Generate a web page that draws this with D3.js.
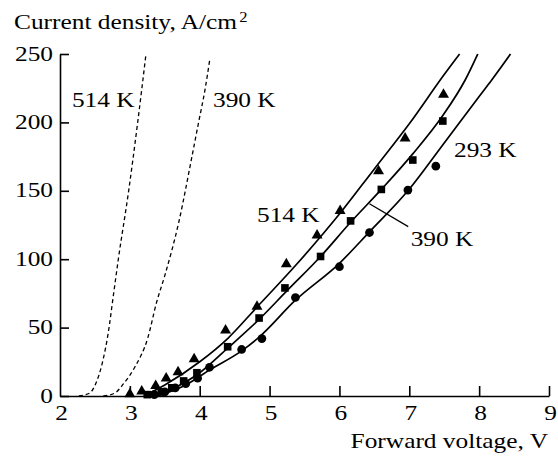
<!DOCTYPE html>
<html><head><meta charset="utf-8">
<script src="https://cdn.jsdelivr.net/npm/d3@7/dist/d3.min.js"></script>
<style>
body{margin:0;background:#fff;}
text{font-family:"Liberation Serif","Times New Roman",serif;fill:#000;}
</style></head>
<body>
<svg id="chart" width="558" height="458"></svg>
<script>
// ---- data ----
const xTicks = [2,3,4,5,6,7,8,9];
const yTicks = [0,50,100,150,200,250];

// measured points (markers)
const tri514V = [3.0,3.17,3.37,3.52,3.69,3.92,4.37,4.82,5.24,5.68,6.01,6.56,6.94,7.49];
const tri514J = [2,4,8,13.5,18,27.5,48.5,66,97,118,136,165,189,221];
const sq390V  = [3.25,3.45,3.6,3.77,3.96,4.40,4.85,5.22,5.73,6.16,6.6,7.05,7.48];
const sq390J  = [1,3,6,11,17,36,57,79,102,128,151,172.5,201];
const ci293V  = [3.35,3.5,3.65,3.8,3.97,4.14,4.6,4.89,5.37,6.0,6.43,6.98,7.38];
const ci293J  = [1,3,6,9,13,21,34,42,72,94.5,119.5,150.5,168];

// solid fitted curves
const fit514V = [3.2,3.5,4.0,4.4,4.82,5.4,6.0,6.5,7.0,7.5,7.72];
const fit514J = [0,8,25,42,65,97,133,166,199,235,250];
const fit390V = [3.35,3.6,4.0,4.4,4.85,5.25,5.73,6.16,6.6,7.05,7.48,7.8,7.98];
const fit390J = [0,5,17,35,56,77,102,127,151,177,205,231,250];
const fit293V = [3.4,3.8,4.14,4.6,4.85,5.37,6.0,6.43,6.98,7.5,8.0,8.18,8.45];
const fit293J = [0,8,19,33,43,70,97,120,150,185,219,231,250];

// dashed calculated curves
const dash514V = [2.27,2.42,2.52,2.6,2.69,2.76,2.835,2.983,3.112,3.231];
const dash514J = [0,2,10,23,46,72,100,150,200,250];
const dash390V = [2.62,2.78,2.91,3.07,3.26,3.38,3.5,3.7,3.885,3.98,4.076,4.147];
const dash390J = [0,2,9,21,43,68,88,127,174,199,224,247];

const labels = [
  {text:"514 K", v:2.17, j:211.5},   // dashed
  {text:"390 K", v:4.19, j:211.5},   // dashed
  {text:"514 K", v:4.82, j:127.5},   // solid
  {text:"293 K", v:7.64, j:175},     // solid
  {text:"390 K", v:7.02, j:110}      // solid, with leader
];

// ---- drawing ----
const SX = 1.18, FS = 21.5;
const FONT = '"Liberation Serif","Times New Roman",serif';
const svg = d3.select("#chart");
const x = d3.scaleLinear().domain([2,9]).range([60,549]);
const y = d3.scaleLinear().domain([0,250]).range([396,54]);
const zip = (a,b)=>a.map((v,i)=>[v,b[i]]);

// axes
const gx = svg.append("g").attr("transform",`translate(0,${y(0)})`)
  .call(d3.axisBottom(x).tickValues(xTicks).tickSizeInner(-10).tickSizeOuter(0).tickFormat(d3.format("d")));
const gy = svg.append("g").attr("transform",`translate(${x(2)},0)`)
  .call(d3.axisLeft(y).tickValues(yTicks).tickSizeInner(-9).tickSizeOuter(0).tickFormat(d3.format("d")));
[gx,gy].forEach(g=>{
  g.select(".domain").attr("stroke","#000").attr("stroke-width",1.6);
  g.selectAll(".tick line").attr("stroke","#000").attr("stroke-width",1.6);
  g.selectAll(".tick text").attr("font-size",FS).attr("font-family",null).style("font-family",FONT).attr("fill","#000");
});
gx.selectAll(".tick line").filter(d=>d===2).remove();
gx.selectAll(".tick text").attr("x",0).attr("y",0).attr("dy",null)
  .attr("transform",`translate(1,${420-y(0)}) scale(${SX},1)`);
gy.selectAll(".tick text").attr("x",0).attr("dy",null).attr("y",0)
  .attr("text-anchor","end")
  .attr("transform",`translate(-7,6) scale(${SX},1)`);

function txt(px,py,s,anchor){
  return svg.append("text").attr("transform",`translate(${px},${py}) scale(${SX},1)`)
    .attr("text-anchor",anchor||"start").attr("font-size",FS).style("font-family",FONT).text(s);
}
// axis titles
const t = txt(14,29,"Current density, A/cm");
t.append("tspan").attr("dy",-7).attr("dx",2).attr("font-size",14).text("2");
txt(548,448,"Forward voltage, V","end");

// curves
const line = d3.line().x(d=>x(d[0])).y(d=>y(d[1])).curve(d3.curveMonotoneX);
[[fit514V,fit514J],[fit390V,fit390J],[fit293V,fit293J]].forEach(([a,b])=>{
  svg.append("path").datum(zip(a,b)).attr("d",line)
    .attr("fill","none").attr("stroke","#000").attr("stroke-width",1.7);
});
[[dash514V,dash514J],[dash390V,dash390J]].forEach(([a,b])=>{
  svg.append("path").datum(zip(a,b)).attr("d",line)
    .attr("fill","none").attr("stroke","#000").attr("stroke-width",1.3)
    .attr("stroke-dasharray","4,3");
});

// markers
const sym = (type,size)=>d3.symbol().type(type).size(size)();
zip(tri514V,tri514J).forEach(d=>svg.append("path").attr("d",sym(d3.symbolTriangle,52))
  .attr("transform",`translate(${x(d[0])},${y(d[1])+0.8})`).attr("fill","#000"));
zip(sq390V,sq390J).forEach(d=>svg.append("path").attr("d",sym(d3.symbolSquare,58))
  .attr("transform",`translate(${x(d[0])},${y(d[1])})`).attr("fill","#000"));
zip(ci293V,ci293J).forEach(d=>svg.append("path").attr("d",sym(d3.symbolCircle,60))
  .attr("transform",`translate(${x(d[0])},${y(d[1])})`).attr("fill","#000"));

// curve labels
labels.forEach(l=>txt(x(l.v),y(l.j),l.text));
// leader line for the solid 390 K label
svg.append("line").attr("x1",x(6.43)).attr("y1",y(140.5)).attr("x2",x(6.985)).attr("y2",y(123.8))
  .attr("stroke","#000").attr("stroke-width",1.3);
</script>
</body></html>
